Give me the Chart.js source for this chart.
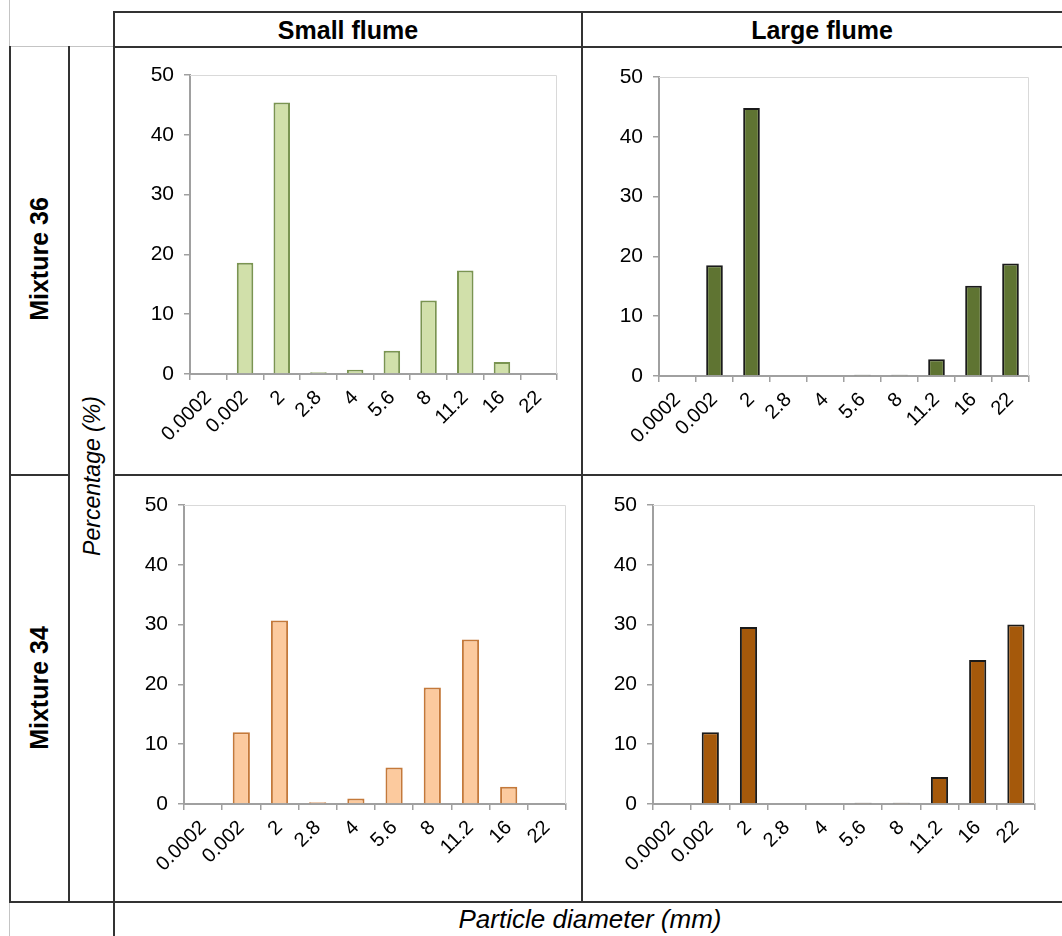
<!DOCTYPE html>
<html>
<head>
<meta charset="utf-8">
<script src="https://cdn.jsdelivr.net/npm/chart.js@4.4.1/dist/chart.umd.min.js"></script>
<style>
  html, body { margin: 0; padding: 0; background: #fff; }
  body { width: 1062px; height: 936px; position: relative; overflow: hidden; font-family: "Liberation Sans", Arial, sans-serif; }
  .ln { position: absolute; background: #333; }
  .lt { position: absolute; background: #c4c4c4; }
  .txt { position: absolute; color: #000; white-space: nowrap; }
  .cv { position: absolute; }
</style>
</head>
<body>
<script>
// ---------- data ----------
const categories = ['0.0002', '0.002', '2', '2.8', '4', '5.6', '8', '11.2', '16', '22'];
const smallFlumeMix36 = [0, 18.6, 45.4, 0.3, 0.7, 3.9, 12.3, 17.3, 2.0, 0];
const largeFlumeMix36 = [0, 18.5, 44.8, 0, 0, 0.2, 0.2, 2.8, 15.1, 18.8];
const smallFlumeMix34 = [0, 12.0, 30.7, 0.3, 0.9, 6.1, 19.5, 27.5, 2.9, 0];
const largeFlumeMix34 = [0, 12.0, 29.6, 0, 0, 0.2, 0.2, 4.5, 24.1, 30.0];
const yTickValues = [0, 10, 20, 30, 40, 50];
const columnTitles = ['Small flume', 'Large flume'];
const rowTitles = ['Mixture 36', 'Mixture 34'];
const yAxisTitle = 'Percentage (%)';
const xAxisTitle = 'Particle diameter (mm)';
</script>

<!-- table lines -->
<div class="lt" style="left:9px;top:0px;width:1px;height:47px;"></div>
<div class="lt" style="left:9px;top:46px;width:105px;height:1px;"></div>
<div class="lt" style="left:9px;top:902px;width:1px;height:34px;"></div>
<div class="ln" style="left:114px;top:11px;width:948px;height:2px;"></div>
<div class="ln" style="left:114px;top:46px;width:948px;height:2px;"></div>
<div class="ln" style="left:9px;top:474px;width:60px;height:2px;"></div>
<div class="ln" style="left:114px;top:474px;width:948px;height:2px;"></div>
<div class="ln" style="left:9px;top:901px;width:1053px;height:2px;"></div>
<div class="ln" style="left:9px;top:46px;width:2px;height:857px;"></div>
<div class="ln" style="left:68px;top:46px;width:2px;height:857px;"></div>
<div class="ln" style="left:113px;top:11px;width:2px;height:925px;"></div>
<div class="ln" style="left:581px;top:11px;width:2px;height:892px;"></div>

<div id="labels"></div>

<canvas id="c1" class="cv" style="left:115px;top:48px;" width="466" height="426"></canvas>
<canvas id="c2" class="cv" style="left:583px;top:48px;" width="479" height="426"></canvas>
<canvas id="c3" class="cv" style="left:115px;top:476px;" width="466" height="425"></canvas>
<canvas id="c4" class="cv" style="left:583px;top:476px;" width="479" height="425"></canvas>

<script>
const FONT = '"Liberation Sans", Arial, sans-serif';
const lab = document.getElementById('labels');
function addText(text, cx, cy, size, weight, style, rot) {
  const d = document.createElement('div');
  d.className = 'txt';
  d.textContent = text;
  d.style.fontSize = size + 'px';
  d.style.fontWeight = weight;
  d.style.fontStyle = style;
  d.style.left = cx + 'px';
  d.style.top = cy + 'px';
  d.style.transform = 'translate(-50%,-50%)' + (rot ? ' rotate(' + rot + 'deg)' : '');
  lab.appendChild(d);
}
addText(columnTitles[0], 348, 30, 25, 'bold', 'normal', 0);
addText(columnTitles[1], 822, 30, 25, 'bold', 'normal', 0);
addText(rowTitles[0], 39, 259, 25, 'bold', 'normal', -90);
addText(rowTitles[1], 39, 688, 25, 'bold', 'normal', -90);
addText(yAxisTitle, 92, 476, 23, 'normal', 'italic', -90);
addText(xAxisTitle, 590, 919, 26, 'normal', 'italic', 0);

const framePlugin = {
  id: 'frame',
  beforeDatasetsDraw(chart) {
    const a = chart.chartArea, ctx = chart.ctx;
    ctx.save();
    ctx.strokeStyle = '#d9d9d9';
    ctx.lineWidth = 1;
    ctx.beginPath();
    ctx.moveTo(a.left, a.top + 0.5);
    ctx.lineTo(a.right - 0.5, a.top + 0.5);
    ctx.lineTo(a.right - 0.5, a.bottom);
    ctx.stroke();
    ctx.restore();
  }
};

function makeChart(id, values, fill, border, yW, xH, padR, padT) {
  new Chart(document.getElementById(id), {
    type: 'bar',
    data: {
      labels: categories,
      datasets: [{
        data: values,
        backgroundColor: fill,
        borderColor: border,
        borderWidth: 2,
        categoryPercentage: 1,
        barPercentage: 0.45,
        borderSkipped: 'bottom'
      }]
    },
    options: {
      responsive: false,
      animation: false,
      devicePixelRatio: 1,
      layout: { padding: { left: 0, right: padR, top: padT, bottom: 0 } },
      plugins: { legend: { display: false }, tooltip: { enabled: false } },
      scales: {
        x: {
          grid: { drawOnChartArea: false, drawTicks: true, tickLength: 6, color: '#a0a0a0', lineWidth: 1.5, offset: true },
          border: { color: '#a0a0a0', width: 2 },
          ticks: { color: '#000', font: { family: FONT, size: 20 }, maxRotation: 45, minRotation: 45, autoSkip: false, padding: 6 },
          afterFit(s) { s.height = xH; }
        },
        y: {
          min: 0, max: 50,
          afterBuildTicks(s) { s.ticks = yTickValues.map(v => ({ value: v })); },
          grid: { drawOnChartArea: false, drawTicks: true, tickLength: 6, color: '#a0a0a0', lineWidth: 1.5 },
          border: { color: '#a0a0a0', width: 2 },
          ticks: { color: '#000', font: { family: FONT, size: 21 }, padding: 10 },
          afterFit(s) { s.width = yW; }
        }
      }
    },
    plugins: [framePlugin]
  });
}

makeChart('c1', smallFlumeMix36, '#d1e0aa', '#7a9451', 75, 100, 24, 27);
makeChart('c2', largeFlumeMix36, '#5f7432', '#1a1a1a', 76, 98, 33, 29);
makeChart('c3', smallFlumeMix34, '#fcca9e', '#c4793a', 69, 97, 15, 29);
makeChart('c4', largeFlumeMix34, '#a5590b', '#1a1a1a', 70, 97, 27, 29);
</script>
</body>
</html>
